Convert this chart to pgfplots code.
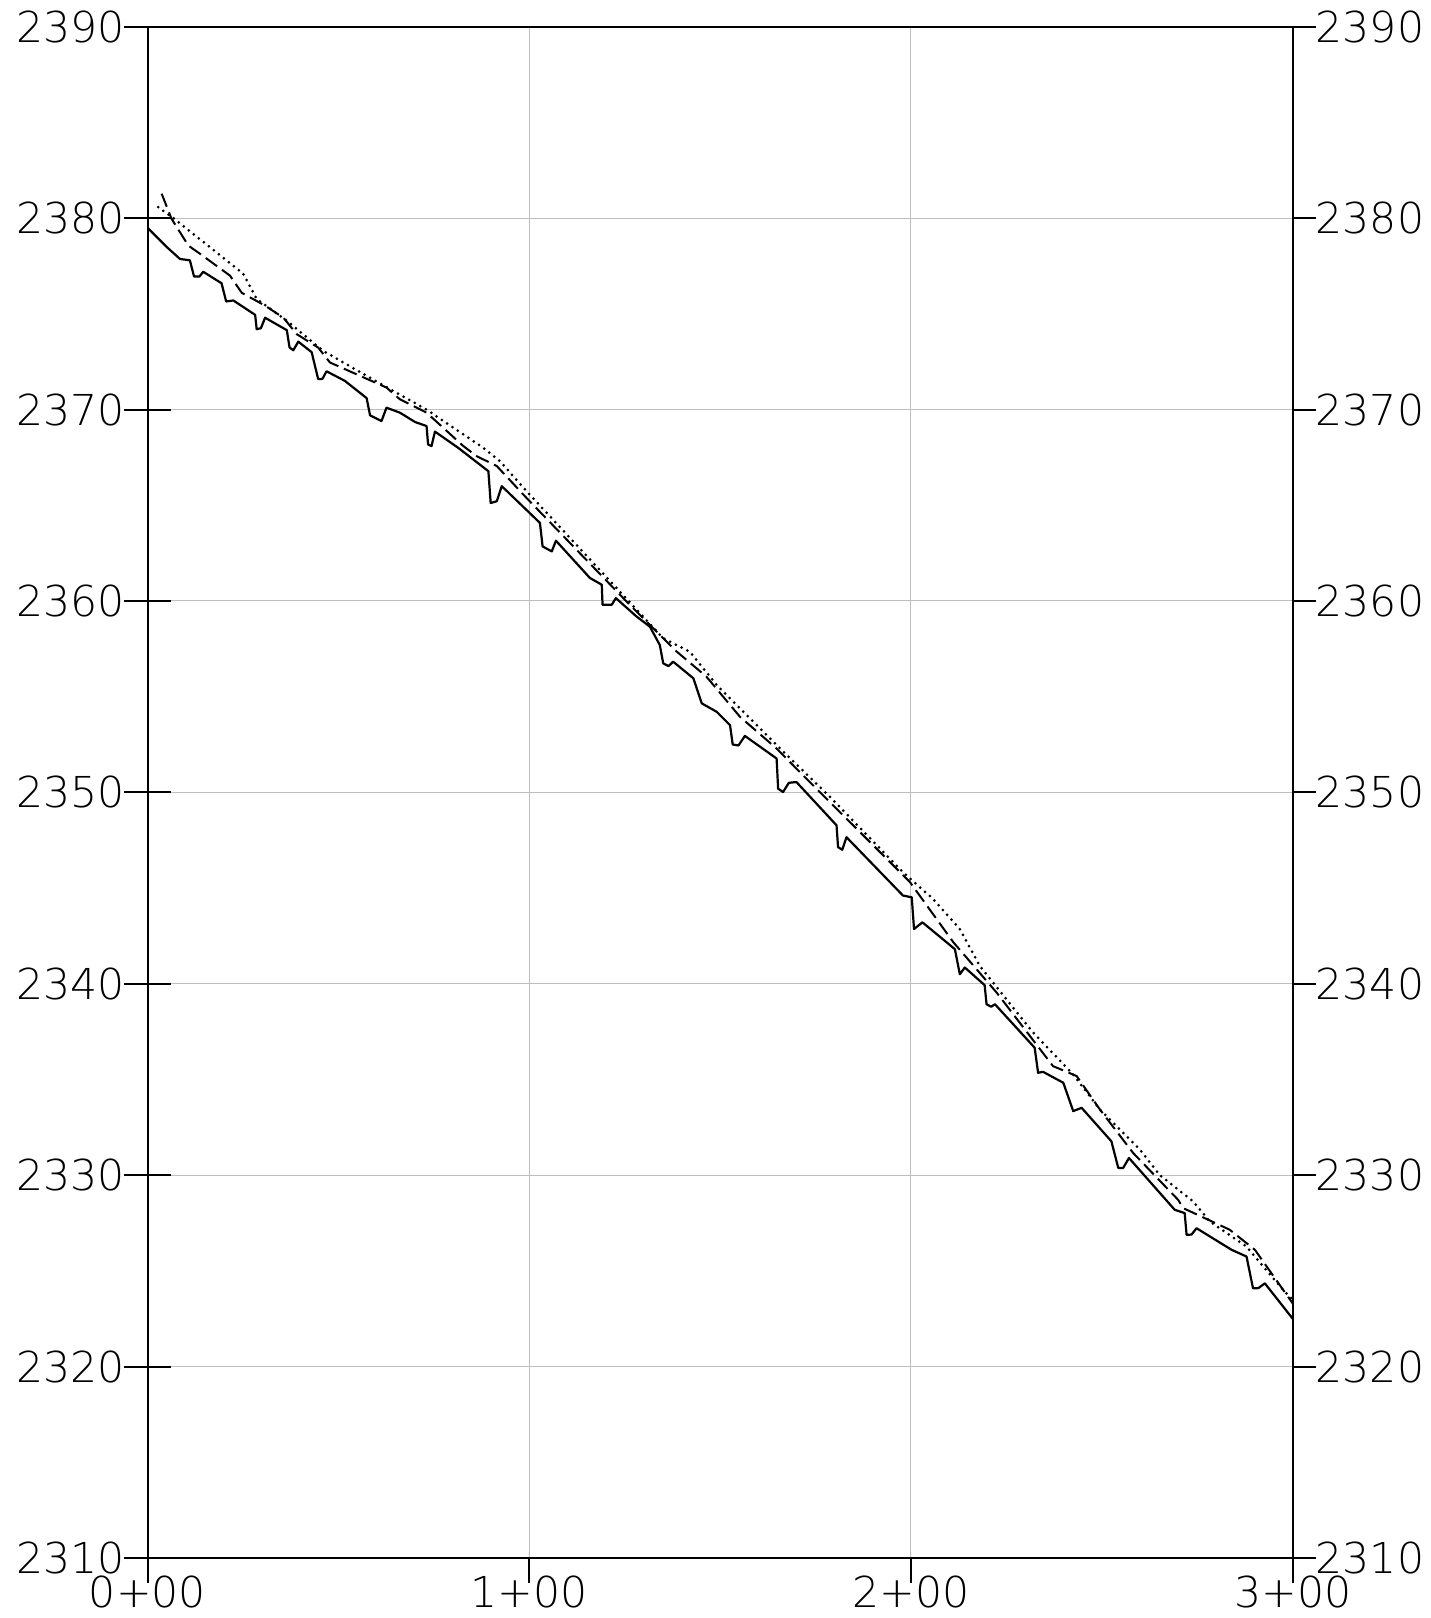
\documentclass[border=0pt]{standalone}
\usepackage{pgfplots}
\pgfplotsset{compat=1.18}
\usepackage{pgfplotstable}
\usepackage{fontspec}
\setmainfont{DejaVu Sans ExtraLight}
\usetikzlibrary{calc}

\pgfplotstableread{
s e
0 2379.5
5.0 2378.5
8.5 2377.87
11.1 2377.8
12.2 2376.95
13.6 2376.95
14.6 2377.2
19.4 2376.6
20.6 2375.65
22.5 2375.7
28.2 2374.95
28.6 2374.2
29.7 2374.25
30.8 2374.8
36.5 2374.15
37.2 2373.25
38.2 2373.1
39.5 2373.55
43.0 2373.0
44.7 2371.6
45.8 2371.6
46.9 2372.0
51.7 2371.5
57.4 2370.6
58.3 2369.7
61.3 2369.4
62.6 2370.1
66.1 2369.84
70.1 2369.35
73.1 2369.14
73.5 2368.18
74.4 2368.09
75.3 2368.85
81.4 2368.0
89.3 2366.78
89.9 2365.12
91.5 2365.21
92.8 2366.0
102.8 2364.08
103.5 2362.85
105.9 2362.59
107.0 2363.15
115.9 2361.2
119.0 2360.85
119.2 2359.8
121.6 2359.8
122.7 2360.15
128.1 2359.19
131.6 2358.66
134.2 2357.7
135.1 2356.74
136.5 2356.6
137.7 2356.83
143.0 2355.96
145.2 2354.65
149.1 2354.21
152.6 2353.51
153.3 2352.5
154.8 2352.45
156.5 2352.95
164.8 2351.77
165.2 2350.19
166.5 2350.02
168.0 2350.5
170.0 2350.54
180.5 2348.28
180.9 2347.14
182.0 2347.0
183.1 2347.66
197.9 2344.61
200.2 2344.52
200.8 2342.86
203.0 2343.21
211.5 2341.81
212.8 2340.5
214.1 2340.85
219.3 2339.93
219.8 2338.93
221.0 2338.8
222.0 2338.93
232.4 2336.66
233.3 2335.35
234.6 2335.4
239.9 2334.83
242.5 2333.35
244.7 2333.52
252.5 2331.77
254.3 2330.38
255.6 2330.38
257.1 2330.9
269.1 2328.19
271.7 2328.02
272.2 2326.88
273.5 2326.9
274.8 2327.23
284.0 2326.1
287.9 2325.75
289.6 2324.09
291.0 2324.1
292.7 2324.35
300 2322.5
}\solidtab

\pgfplotstableread{
s e
3.7 2381.28
6.3 2379.97
10.7 2378.57
13.75 2378.14
21.6 2377.0
24.7 2376.1
30.8 2375.43
35.6 2374.8
39.1 2373.94
44.7 2373.24
47.8 2372.46
62.6 2371.15
66.1 2370.54
73.1 2369.84
82.7 2368.1
86.2 2367.57
91.5 2367.05
99.3 2365.38
125.5 2359.97
131.6 2358.75
138.6 2357.36
146.4 2356.05
155.2 2353.95
164.8 2352.29
170.0 2351.24
199.7 2345.32
211.1 2342.17
222.4 2339.55
237.2 2335.7
243.4 2335.18
249.5 2333.43
258.2 2331.16
270.0 2328.71
271.3 2328.28
283.5 2327.15
290.1 2326.1
300 2323.3
}\dashtab

\pgfplotstableread{
s e
2.8 2380.58
7.6 2379.88
25.1 2377.09
28.6 2375.78
36.5 2374.64
46.0 2373.07
60.5 2371.41
73.1 2370.0
88.0 2368.0
92.3 2367.31
99.3 2365.74
135.1 2358.05
142.1 2357.35
149.1 2355.61
164.8 2352.47
178.8 2349.76
197.9 2345.83
205.8 2344.43
212.8 2342.86
218.0 2340.94
232.0 2337.45
242.5 2335.26
249.5 2333.43
260.0 2331.33
265.2 2330.0
273.9 2328.63
278.3 2327.58
287.9 2326.27
297.5 2324.0
300 2323.5
}\dottab

\pgfplotsset{
  base/.style={
    scale only axis, width=572.6pt, height=765.6pt,
    xmin=0, xmax=300, ymin=2310, ymax=2390,
    axis line style={line width=1pt, black},
    tick style={line width=1pt, black},
    ticklabel style={font=\fontsize{21.3}{24}\selectfont, inner sep=0pt, outer sep=0pt},
  }
}

\begin{document}
\begin{tikzpicture}
\begin{axis}[base, name=main,
  xtick={0,100,200,300}, xticklabels={0+00,1+00,2+00,3+00},
  xtick pos=bottom, tick align=outside, major tick length=12.5pt,
  xticklabel style={anchor=north, yshift=3.5pt},
  ytick={2320,2330,...,2380}, yticklabels={}, y tick style={draw=none},
  grid=major, grid style={gray!50, line width=0.5pt},
]
\addplot[black, line width=1.1pt, line join=round] table[x=s, y=e] {\solidtab};
\addplot[black, line width=1pt, dash pattern=on 7pt off 3pt] table[x=s, y=e] {\dashtab};
\addplot[black, line width=1.5pt, line cap=round, dash pattern=on 0pt off 3.2pt] table[x=s, y=e] {\dottab};
\end{axis}
\begin{axis}[base,
  xtick=\empty,
  ytick={2310,2320,...,2390},
  yticklabels={2310,2320,2330,2340,2350,2360,2370,2380,2390},
  ytick pos=left, tick align=center, major tick length=23pt,
  yticklabel style={anchor=east},
]
\end{axis}
\begin{axis}[base,
  xtick=\empty,
  ytick={2310,2320,...,2390},
  yticklabels={2310,2320,2330,2340,2350,2360,2370,2380,2390},
  ytick pos=right, yticklabel pos=right, tick align=outside, major tick length=11.5pt,
  yticklabel style={anchor=west},
]
\end{axis}
\pgfresetboundingbox
\path ($(main.south west)+(-73.75pt,-30pt)$) rectangle ($(main.north east)+(69.1pt,13.4pt)$);
\end{tikzpicture}
\end{document}
